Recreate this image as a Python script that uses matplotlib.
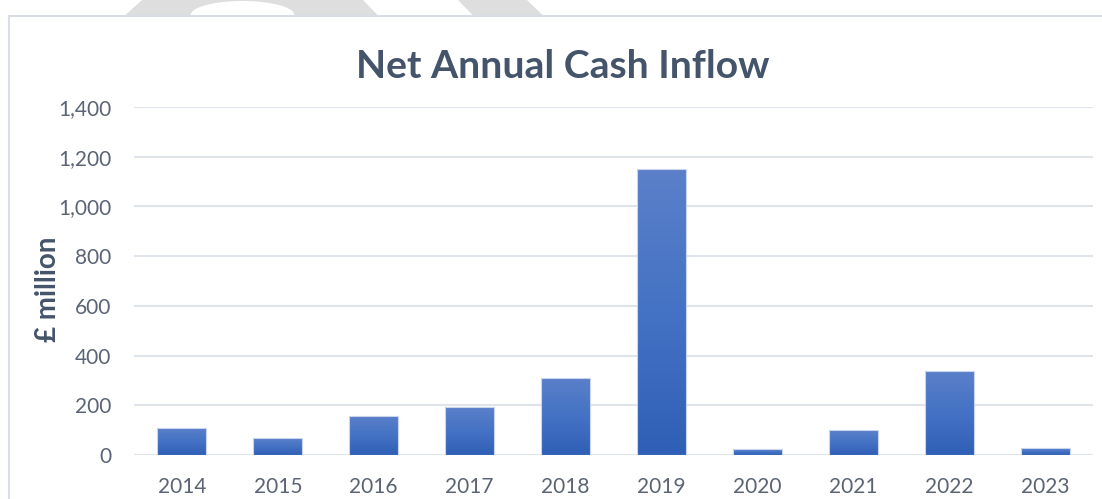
import matplotlib.pyplot as plt
import numpy as np
from matplotlib.colors import LinearSegmentedColormap
from matplotlib.patches import Polygon, Rectangle

years = ['2014', '2015', '2016', '2017', '2018', '2019', '2020', '2021', '2022', '2023']
inflow = [110, 67, 157, 193, 310, 1150, 23, 100, 338, 28]
yticks = [0, 200, 400, 600, 800, 1000, 1200, 1400]

title_col = '#44546a'
tick_col = '#5a6475'
grid_col = '#dfe3ea'

plt.rcParams['font.family'] = ['Lato', 'DejaVu Sans']

fig = plt.figure(figsize=(11.02, 4.99), dpi=100)
fig.patch.set_facecolor('white')

# grey watermark shapes peeking in above the chart frame (figure pixels)
W, H = 1102.0, 499.0
def px(pts):
    return [(x / W, 1 - y / H) for x, y in pts]
wm = '#dedede'
fig.patches.append(Polygon(px([(142, 0), (363, 0), (378, 15.5), (125, 15.5)]),
                           closed=True, transform=fig.transFigure, fc=wm, ec='none', zorder=-3))
arc_x = np.linspace(190, 295, 40)
arc_y = 15.5 - 14.5 * np.sqrt(np.clip(1 - ((arc_x - 242.5) / 52.5) ** 2, 0, 1))
fig.patches.append(Polygon(px(list(zip(arc_x, arc_y))), closed=True,
                           transform=fig.transFigure, fc='white', ec='none', zorder=-2))
fig.patches.append(Polygon(px([(458, 0), (527, 0), (543, 15.5), (473, 15.5)]),
                           closed=True, transform=fig.transFigure, fc=wm, ec='none', zorder=-3))
# chart frame
fig.patches.append(Rectangle((8.5 / W, -0.1), 1.2, 1 - 16 / H + 0.1, transform=fig.transFigure,
                             fc='white', ec='#d9dde6', lw=1.5, zorder=-1))

ax = fig.add_axes([134 / W, 1 - 455 / H, (1093 - 134) / W, (455 - 107) / H])
ax.set_zorder(1)
ax.set_facecolor('none')
x = np.arange(len(years))
bars = ax.bar(x, inflow, width=0.51, color='none', edgecolor='#c9d5ee', linewidth=0.8, zorder=3)

cmap = LinearSegmentedColormap.from_list('g', ['#2f5fb6', '#4472c4', '#5b80c9'])
grad = np.linspace(0, 1, 256).reshape(-1, 1)
for b in bars:
    im = ax.imshow(grad, cmap=cmap, origin='lower', aspect='auto', zorder=2,
                   extent=[b.get_x(), b.get_x() + b.get_width(), 0, b.get_height()])
    im.set_clip_path(b)

ax.set_xlim(-0.5, len(years) - 0.5)
ax.set_ylim(0, 1400)
ax.set_xticks(x)
ax.set_xticklabels(years)
ax.set_yticks(yticks)
ax.set_yticklabels([f'{v:,}' for v in yticks])
ax.yaxis.grid(True, color=grid_col, linewidth=1.5, zorder=0)
ax.set_axisbelow(True)
for s in ax.spines.values():
    s.set_visible(False)
ax.tick_params(axis='both', length=0, labelsize=15, colors=tick_col)
ax.tick_params(axis='x', pad=15.5)
ax.tick_params(axis='y', pad=16.5)

ax.set_ylabel('£ million', fontsize=20, fontweight='bold', color=title_col)
ax.yaxis.label.set_va('center')
ax.yaxis.set_label_coords(-0.090, 0.475)
fig.text(563 / W, 1 - 78.5 / H, 'Net Annual Cash Inflow', ha='center', va='baseline',
         fontsize=28.2, fontweight='bold', color=title_col)

fig.savefig('out.png', dpi=100, facecolor='white')
